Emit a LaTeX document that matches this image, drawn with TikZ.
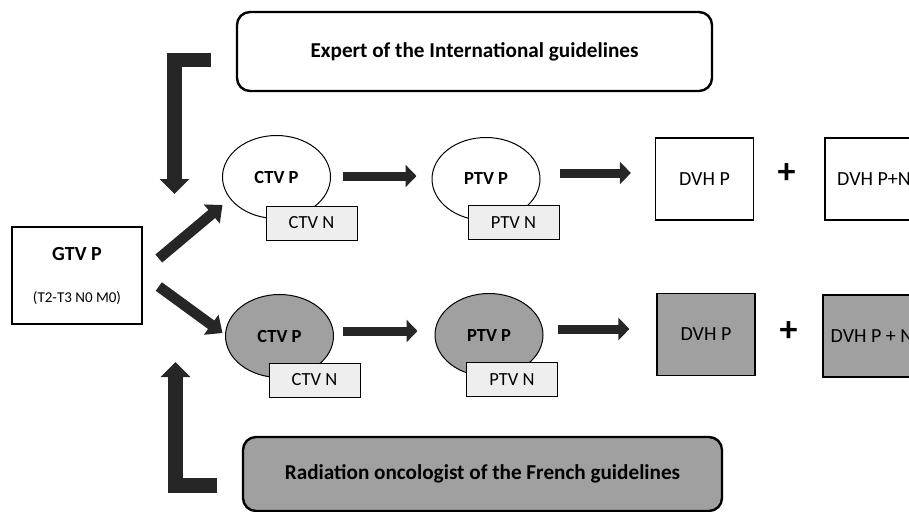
\documentclass[tikz,border=0pt]{standalone}
\usepackage{fontspec}
\setmainfont{Carlito}
\usetikzlibrary{shapes.geometric,arrows.meta,positioning,calc}
\definecolor{shadegray}{RGB}{160,160,160}
\definecolor{taggray}{RGB}{238,238,238}
\definecolor{arrowdark}{RGB}{38,38,38}

\begin{document}
\begin{tikzpicture}[x=1pt, y=-1pt,
  guide/.style={rectangle, draw, rounded corners=13pt, line width=2.4pt,
    font=\bfseries\fontsize{21.2}{24}\selectfont, inner sep=0pt},
  volume/.style={ellipse, draw, line width=1pt, minimum width=108pt,
    minimum height=83pt, font=\bfseries\fontsize{18.5}{21}\selectfont, inner sep=0pt},
  margin/.style={rectangle, draw, line width=1pt, fill=taggray, minimum width=91pt,
    minimum height=34pt, font=\fontsize{18.5}{21}\selectfont, inner sep=0pt},
  dvh/.style={rectangle, draw, line width=1.2pt, minimum width=98pt,
    minimum height=82pt, font=\fontsize{20}{23}\selectfont, inner sep=0pt},
  flow/.style={draw=arrowdark, line width=9pt, -{Triangle[width=22pt,length=11pt]}},
  elbow/.style={draw=arrowdark, line width=14.5pt, line join=miter,
    -{Triangle[width=29pt,length=15pt]}},
  plus/.style={font=\bfseries\fontsize{36}{38}\selectfont, inner sep=0pt}
]
  \clip (0,0) rectangle (909,511);

  % Guideline boxes
  \node[guide, minimum width=475pt, minimum height=79pt] (expert) at (474.5,51.5)
    {Expert of the International guidelines};
  \node[guide, fill=shadegray, minimum width=479pt, minimum height=74pt] (french) at (482.5,474)
    {Radiation oncologist of the French guidelines};

  % GTV
  \node[rectangle, draw, line width=1.6pt, minimum width=130pt, minimum height=97pt,
    align=center, font=\fontsize{20}{23}\selectfont] (gtv) at (77,275.5)
    {\textbf{GTV P}\\[19pt]{\fontsize{15}{17}\selectfont (T2-T3 N0 M0)}};

  % Upper path (international)
  \node[volume] (ctv1) at (276.5,177) {CTV P};
  \node[margin] (ctvn1) at (311.5,223) {CTV N};
  \node[volume] (ptv1) at (486,179) {PTV P};
  \node[margin] (ptvn1) at (513.5,222.5) {PTV N};
  \node[dvh] (dvh1) at (704.5,179) {DVH P};
  \node[plus] (plus1) at (786.5,173.5) {+};
  \node[dvh] (dvhpn1) at (874,179) {DVH P+N};

  % Lower path (French)
  \node[volume, fill=shadegray] (ctv2) at (279.5,336) {CTV P};
  \node[margin] (ctvn2) at (314.5,380) {CTV N};
  \node[volume, fill=shadegray] (ptv2) at (489,335) {PTV P};
  \node[margin] (ptvn2) at (512,379.5) {PTV N};
  \node[dvh, fill=shadegray] (dvh2) at (706,334.5) {DVH P};
  \node[plus] (plus2) at (788.5,331.5) {+};
  \node[dvh, fill=shadegray] (dvhpn2) at (872,336) {DVH P + N};

  % Arrows
  \coordinate (expertin) at ($(expert.west)+(-25,8.5)$);
  \coordinate (expertout) at (174.5,194);
  \draw[elbow] (expertin) -| (expertout);
  \coordinate (frenchin) at ($(french.west)+(-25,11)$);
  \coordinate (frenchout) at (175.5,362);
  \draw[elbow, line width=15pt] (frenchin) -| (frenchout);

  \draw[flow, line width=10.5pt, -{Triangle[width=24pt,length=14pt]}]
    ($(gtv.east)+(16,-17)$) -- ($(ctv1.center)+(-54,28)$);
  \draw[flow, line width=10.5pt, -{Triangle[width=24pt,length=14pt]}]
    ($(gtv.east)+(16,11)$) -- ($(ctv2.center)+(-57,-3)$);

  \draw[flow] ($(ctv1.east)+(12,-1)$) -- ($(ptv1.west)+(-15,-3)$);
  \draw[flow] ($(ptv1.east)+(19,-6)$) -- ($(dvh1.west)+(-24,-6)$);
  \draw[flow] ($(ctv2.east)+(9,-5)$) -- ($(ptv2.west)+(-17,-4)$);
  \draw[flow] ($(ptv2.east)+(14,-6)$) -- ($(dvh2.west)+(-27,-5.5)$);
\end{tikzpicture}
\end{document}
